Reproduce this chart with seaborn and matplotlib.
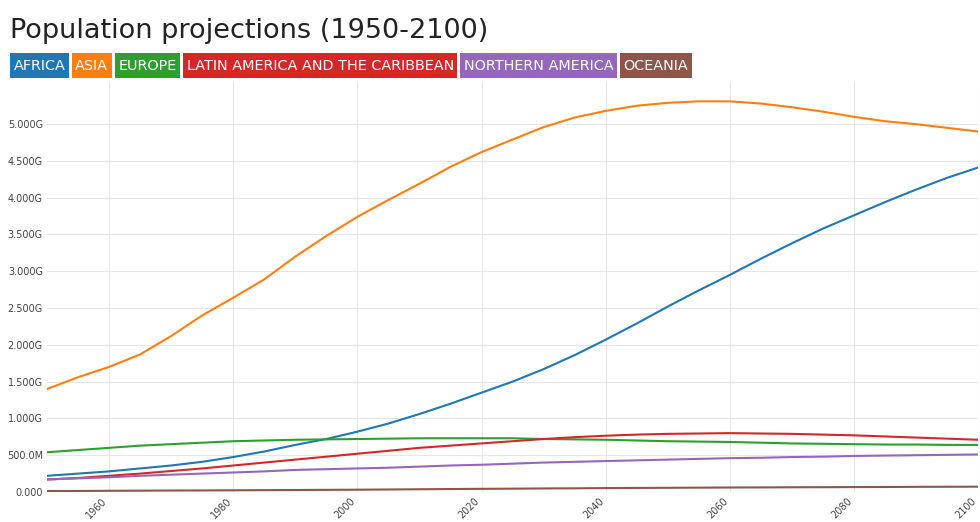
import numpy as np
import pandas as pd
import seaborn as sns
import matplotlib
matplotlib.use('Agg')
import matplotlib.pyplot as plt
from matplotlib.patches import Rectangle
from matplotlib.ticker import FuncFormatter

years = list(range(1950, 2101, 5))

# population in billions, every 5 years
africa = [0.22, 0.25, 0.28, 0.32, 0.36, 0.41, 0.475, 0.55, 0.64, 0.72,
          0.82, 0.93, 1.06, 1.20, 1.35, 1.50, 1.67, 1.86, 2.07, 2.29,
          2.52, 2.74, 2.95, 3.17, 3.38, 3.58, 3.76, 3.94, 4.11, 4.27, 4.41]
asia = [1.40, 1.56, 1.70, 1.87, 2.12, 2.40, 2.64, 2.89, 3.20, 3.48,
        3.74, 3.97, 4.19, 4.42, 4.62, 4.79, 4.96, 5.09, 5.18, 5.25,
        5.29, 5.31, 5.31, 5.28, 5.23, 5.17, 5.10, 5.04, 5.00, 4.95, 4.90]
europe = [0.54, 0.57, 0.60, 0.63, 0.65, 0.67, 0.69, 0.70, 0.71, 0.715,
          0.72, 0.725, 0.73, 0.73, 0.73, 0.73, 0.72, 0.715, 0.71, 0.70,
          0.69, 0.685, 0.68, 0.67, 0.66, 0.655, 0.65, 0.645, 0.645, 0.64, 0.64]
latam = [0.17, 0.19, 0.22, 0.25, 0.285, 0.32, 0.36, 0.40, 0.44, 0.48,
         0.52, 0.56, 0.60, 0.63, 0.66, 0.69, 0.72, 0.745, 0.765, 0.78,
         0.79, 0.795, 0.80, 0.795, 0.79, 0.78, 0.77, 0.755, 0.74, 0.725, 0.71]
n_america = [0.17, 0.185, 0.20, 0.22, 0.235, 0.25, 0.265, 0.28, 0.30, 0.31,
             0.32, 0.33, 0.345, 0.36, 0.37, 0.385, 0.40, 0.41, 0.42, 0.43,
             0.44, 0.45, 0.46, 0.465, 0.475, 0.48, 0.49, 0.495, 0.50, 0.505, 0.51]
oceania = [0.013, 0.014, 0.016, 0.018, 0.020, 0.021, 0.023, 0.025, 0.027, 0.029,
           0.031, 0.034, 0.037, 0.040, 0.043, 0.045, 0.048, 0.050, 0.053, 0.055,
           0.057, 0.059, 0.061, 0.062, 0.064, 0.065, 0.067, 0.068, 0.070, 0.071, 0.072]

regions = ['AFRICA', 'ASIA', 'EUROPE', 'LATIN AMERICA AND THE CARIBBEAN',
           'NORTHERN AMERICA', 'OCEANIA']
colors = ['#1f77b4', '#ff7f0e', '#2ca02c', '#d62728', '#9467bd', '#8c564b']

series = [africa, asia, europe, latam, n_america, oceania]
df = pd.concat([pd.DataFrame({'year': years, 'pop': np.array(v) * 1e9, 'region': r})
                for r, v in zip(regions, series)])

sns.set_style('whitegrid')
plt.rcParams['font.family'] = ['DejaVu Sans']

W, H = 980, 522
fig = plt.figure(figsize=(W / 100, H / 100), dpi=100)
ax = fig.add_axes([0.048, 0.0575, 0.95, 0.785])

sns.lineplot(data=df, x='year', y='pop', hue='region', palette=colors,
             hue_order=regions, linewidth=1.5, legend=False, ax=ax)

ax.set_xlim(1950, 2100)
ax.set_ylim(0, 5.57e9)
ax.set_xticks(range(1960, 2101, 20))
ax.set_yticks(np.arange(0, 5.01e9, 5e8))


def si_fmt(v, pos):
    if v == 0:
        return '0.000'
    if v >= 1e9:
        return f'{v / 1e9:.3f}G'
    return f'{v / 1e6:.1f}M'


ax.yaxis.set_major_formatter(FuncFormatter(si_fmt))
ax.set_xlabel('')
ax.set_ylabel('')
ax.tick_params(axis='both', labelsize=7, colors='#444444', length=0, pad=3)
for lab in ax.get_xticklabels():
    lab.set_rotation(45)
    lab.set_ha('right')
    lab.set_va('top')
ax.grid(color='#e6e6e6', linewidth=0.8)
for s in ax.spines.values():
    s.set_visible(False)

fig.text(0.010, 0.928, 'Population projections (1950-2100)', fontsize=19.5,
         color='#222222', va='baseline')

# legend as coloured boxes (top 53px, bottom 78px)
renderer = fig.canvas.get_renderer()
box_top, box_bot, hpad, gap = 53, 78, 3.5, 3
x = 10
for r, c in zip(regions, colors):
    t = fig.text((x + hpad) / W, 1 - (box_top + box_bot) / 2 / H, r, fontsize=10.4,
                 color='white', va='center', ha='left', zorder=3)
    tw = t.get_window_extent(renderer).width
    fig.patches.append(Rectangle((x / W, 1 - box_bot / H), (tw + 2 * hpad) / W,
                                 (box_bot - box_top) / H, transform=fig.transFigure,
                                 fc=c, ec='none', zorder=2))
    x += tw + 2 * hpad + gap

fig.savefig('out.png', dpi=100)
